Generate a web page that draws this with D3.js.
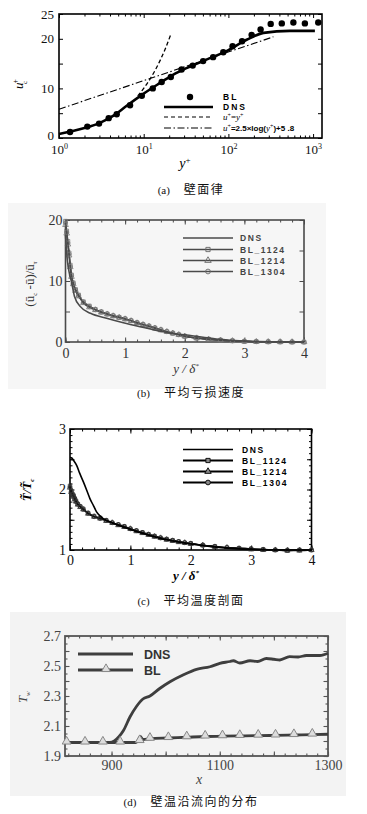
<!DOCTYPE html>
<html lang="zh">
<head>
  <meta charset="UTF-8">
  <script src="https://cdn.jsdelivr.net/npm/d3@7"></script>
  <title>壁面律 / 亏损速度 / 温度剖面 / 壁温</title>
  <style>
    body { margin: 0; background: #fff; }
  </style>
</head>
<body>
  <svg width="367" height="814"></svg>
<script>
  /* ---------- (a) 壁面律 ---------- */
  const aBLy = [1.35, 2.16, 2.97, 3.86, 4.8, 6.9, 9.5, 12.8, 16.3, 20.9, 28, 37.9, 50.3, 66, 87, 112, 145, 188, 240, 316, 427, 585, 800, 1150];
  const aBLu = [1.2, 2.3, 2.9, 4.0, 4.8, 6.6, 8.5, 10, 11.3, 12.3, 13.8, 14.6, 15.5, 16.3, 17.3, 18.5, 19.5, 20.8, 21.9, 23, 23.1, 23.3, 23.1, 23.3];
  const aDNSy = [1, 2, 3, 4.5, 6.3, 9.9, 15.6, 22.4, 32, 55, 95, 164, 260, 530, 1050];
  const aDNSu = [0.8, 2.0, 3.0, 4.6, 6.5, 8.9, 11.1, 12.8, 14.1, 15.8, 17.5, 19.8, 21.2, 21.6, 21.6];
  const aLinY = [8.5, 10, 12, 14, 16, 18, 20.8];
  const aLinU = [8.5, 10, 12, 14, 16, 18, 20.8];
  const aLogY = [1, 340];
  const aLogU = [5.8, 20.4];
  const aYLabels = [0, 10, 20, 25];
  const aXLabels = [1, 10, 100, 1000];

  /* ---------- (b) 平均亏损速度 ---------- */
  const bDNSx = [0, 0.01, 0.03, 0.06, 0.1, 0.15, 0.25, 0.42, 0.69, 0.97, 1.25, 1.53, 1.8, 2.03, 2.53, 3.08, 3.6, 4.0];
  const bDNSy = [17.5, 16, 13.5, 11.5, 9.9, 7.5, 5.8, 4.7, 3.9, 3.15, 2.5, 1.9, 1.4, 1.15, 0.5, 0.15, 0.03, 0];
  const bBLx = [0, 0.02, 0.04, 0.06, 0.08, 0.1, 0.13, 0.17, 0.22, 0.3, 0.4, 0.5, 0.6, 0.7, 0.8, 0.9, 1.0, 1.1, 1.2, 1.3, 1.4, 1.5, 1.6, 1.7, 1.8, 1.9, 2.0, 2.2, 2.4, 2.6, 2.8, 3.0, 3.2, 3.4, 3.6, 3.8, 4.0];
  const b1124y = [19.8, 18.2, 16.5, 14.6, 12.6, 11.0, 9.7, 8.6, 7.7, 6.6, 5.9, 5.35, 4.95, 4.6, 4.3, 4.05, 3.8, 3.5, 3.15, 2.85, 2.6, 2.3, 2.0, 1.7, 1.45, 1.2, 0.95, 0.65, 0.45, 0.3, 0.2, 0.1, 0.06, 0.03, 0.02, 0, 0];
  const b1214y = [19.2, 17.8, 16.0, 14.2, 12.3, 10.7, 9.5, 8.4, 7.5, 6.4, 5.7, 5.25, 4.85, 4.55, 4.25, 4.0, 3.75, 3.45, 3.1, 2.8, 2.55, 2.25, 1.95, 1.68, 1.42, 1.18, 0.93, 0.63, 0.43, 0.28, 0.18, 0.1, 0.05, 0.03, 0.01, 0, 0];
  const b1304y = [19.5, 18.0, 16.2, 14.4, 12.4, 10.9, 9.6, 8.5, 7.6, 6.5, 5.8, 5.3, 4.9, 4.6, 4.3, 4.05, 3.8, 3.5, 3.2, 2.9, 2.6, 2.3, 2.0, 1.7, 1.45, 1.2, 0.95, 0.65, 0.45, 0.3, 0.2, 0.1, 0.06, 0.03, 0.02, 0, 0];
  const bXLabels = [0, 1, 2, 3, 4];
  const bYLabels = [0, 10, 20];

  /* ---------- (c) 平均温度剖面 ---------- */
  const cDNSx = [0, 0.03, 0.06, 0.11, 0.16, 0.22, 0.28, 0.33, 0.39, 0.44, 0.5, 0.55, 0.65, 0.8, 1.0, 1.25, 1.5, 1.75, 2.0, 2.5, 3.0, 3.5, 4.0];
  const cDNSy = [2.53, 2.52, 2.48, 2.4, 2.27, 2.13, 1.98, 1.85, 1.73, 1.63, 1.56, 1.52, 1.47, 1.41, 1.34, 1.26, 1.19, 1.14, 1.1, 1.04, 1.01, 1.0, 1.0];
  const cBLx = [0, 0.02, 0.04, 0.06, 0.08, 0.1, 0.13, 0.17, 0.22, 0.3, 0.4, 0.5, 0.6, 0.7, 0.8, 0.9, 1.0, 1.1, 1.2, 1.3, 1.4, 1.5, 1.6, 1.7, 1.8, 1.9, 2.0, 2.2, 2.4, 2.6, 2.8, 3.0, 3.2, 3.4, 3.6, 3.8, 4.0];
  const c1124y = [2.06, 1.98, 1.93, 1.9, 1.85, 1.81, 1.76, 1.72, 1.68, 1.61, 1.56, 1.53, 1.49, 1.45, 1.42, 1.39, 1.35, 1.32, 1.29, 1.26, 1.23, 1.2, 1.18, 1.16, 1.14, 1.12, 1.11, 1.08, 1.06, 1.04, 1.03, 1.02, 1.01, 1.0, 0.99, 1.0, 1.0];
  const c1214y = [2.03, 1.96, 1.91, 1.88, 1.84, 1.8, 1.75, 1.71, 1.67, 1.6, 1.55, 1.52, 1.48, 1.45, 1.41, 1.38, 1.35, 1.31, 1.28, 1.25, 1.22, 1.2, 1.17, 1.15, 1.13, 1.12, 1.1, 1.08, 1.05, 1.04, 1.02, 1.01, 1.0, 1.0, 0.99, 0.99, 1.0];
  const c1304y = [2.04, 1.97, 1.92, 1.89, 1.85, 1.8, 1.76, 1.72, 1.67, 1.61, 1.55, 1.52, 1.49, 1.45, 1.42, 1.39, 1.35, 1.32, 1.29, 1.26, 1.23, 1.2, 1.18, 1.16, 1.14, 1.12, 1.11, 1.08, 1.06, 1.04, 1.03, 1.02, 1.01, 1.0, 1.0, 1.0, 1.0];
  const cXLabels = [0, 1, 2, 3, 4];
  const cYLabels = [1, 2, 3];

  /* ---------- (d) 壁温沿流向的分布 ---------- */
  const dDNSx = [814, 840, 870, 897, 905, 914, 922, 934, 946, 958, 971, 989, 1008, 1032, 1057, 1082, 1100, 1119, 1125, 1137, 1156, 1170, 1186, 1200, 1211, 1229, 1245, 1260, 1285, 1300];
  const dDNSy = [1.99, 1.99, 1.99, 1.99, 2.0, 2.03, 2.07, 2.16, 2.23, 2.28, 2.3, 2.35, 2.395, 2.44, 2.478, 2.495, 2.518, 2.53, 2.535, 2.52, 2.535, 2.53, 2.55, 2.545, 2.54, 2.562, 2.56, 2.57, 2.57, 2.585];
  const dBLx = [814, 851, 884, 916, 945, 950, 953, 958, 971, 1005, 1039, 1073, 1105, 1137, 1171, 1203, 1237, 1271, 1300];
  const dBLy = [1.99, 1.99, 1.99, 1.99, 1.99, 2.01, 2.03, 2.01, 2.015, 2.02, 2.025, 2.03, 2.032, 2.034, 2.036, 2.037, 2.04, 2.043, 2.045];
  const dTriX = [817, 851, 884, 916, 952, 971, 1005, 1039, 1073, 1105, 1137, 1171, 1203, 1237, 1271];
  const dTriY = [1.99, 1.99, 1.99, 1.99, 2.0, 2.015, 2.02, 2.025, 2.03, 2.032, 2.034, 2.036, 2.037, 2.04, 2.043];
  const dXLabels = [900, 1100, 1300];
  const dYLabels = [1.9, 2.1, 2.3, 2.5, 2.7];

  const svg = d3.select("svg");
  const serif = '"Liberation Serif", "DejaVu Serif", serif';
  const sans = '"Liberation Sans", Arial, sans-serif';
  const cjk = '"Noto Sans CJK SC", sans-serif';

  svg.append("rect").attr("width", 367).attr("height", 814).attr("fill", "#fff");
  // 扫描图的浅灰底色
  svg.append("rect").attr("x", 8).attr("y", 203).attr("width", 318).attr("height", 186).attr("fill", "#f6f6f6");
  svg.append("rect").attr("x", 10).attr("y", 612).attr("width", 336).attr("height", 184).attr("fill", "#f3f3f3");

  const zip = (xs, ys) => xs.map((x, i) => [x, ys[i]]);

  // 边框 + 四边向内刻度
  function frame(x, y, o) {
    const g = svg.append("g");
    const [l, r] = x.range();
    const [b, t] = y.range();
    const sides = [
      [d3.axisBottom, x, o.xMajor, o.xMinor, [0, b]],
      [d3.axisTop, x, o.xMajor, o.xMinor, [0, t]],
      [d3.axisLeft, y, o.yMajor, o.yMinor, [l, 0]],
      [d3.axisRight, y, o.yMajor, o.yMinor, [r, 0]]
    ];
    sides.forEach(([mk, sc, major, minor, p]) => {
      [[minor, o.minorLen], [major, o.majorLen]].forEach(([vals, len]) => {
        const ax = g.append("g")
          .attr("transform", "translate(" + p[0] + "," + p[1] + ")")
          .call(mk(sc).tickValues(vals).tickSize(-len).tickFormat(""));
        ax.select(".domain").remove();
        ax.selectAll("line").attr("stroke", o.color).attr("stroke-width", o.tickWidth);
      });
    });
    g.append("rect")
      .attr("x", l).attr("y", t)
      .attr("width", r - l).attr("height", b - t)
      .attr("fill", "none")
      .attr("stroke", o.color)
      .attr("stroke-width", o.frameWidth);

    // 刻度标签
    const xl = g.append("g")
      .attr("transform", "translate(0," + b + ")")
      .call(d3.axisBottom(x).tickValues(o.xLabels).tickSize(0).tickPadding(o.xPad).tickFormat(o.xFmt || (d => d)));
    const yl = g.append("g")
      .attr("transform", "translate(" + l + ",0)")
      .call(d3.axisLeft(y).tickValues(o.yLabels).tickSize(0).tickPadding(o.yPad).tickFormat(o.yFmt || (d => d)));
    [xl, yl].forEach(a => {
      a.select(".domain").remove();
      a.attr("font-family", serif).attr("font-size", o.fontSize);
      a.selectAll("text").attr("fill", o.labelColor || "#111");
    });
    return { g, xl, yl };
  }

  function caption(y, tag, txt) {
    const t = svg.append("text")
      .attr("x", 191).attr("y", y)
      .attr("text-anchor", "middle")
      .attr("fill", "#111");
    t.append("tspan").attr("font-family", serif).attr("font-size", 11).text("(" + tag + ")");
    t.append("tspan").attr("dx", 14).attr("font-family", cjk).attr("font-size", 12)
      .attr("letter-spacing", 1.5).text(txt);
  }

  /**
   * (a) 壁面律
   */
  const xA = d3.scaleLog().domain([1, 1274]).range([59, 322]);
  const yA = d3.scaleLinear().domain([0, 25]).range([138, 14]);

  const minorLog = [];
  [1, 10, 100, 1000].forEach(d => [2, 3, 4, 5, 6, 7, 8, 9].forEach(m => { if (d * m < 1274) minorLog.push(d * m); }));

  const fa = frame(xA, yA, {
    color: "#000", frameWidth: 1.6, tickWidth: 1,
    xMajor: aXLabels, xMinor: minorLog, yMajor: [0, 5, 10, 15, 20, 25], yMinor: [],
    majorLen: 4, minorLen: 2.5,
    xLabels: aXLabels, yLabels: aYLabels, xPad: 7, yPad: 5, fontSize: 13,
    xFmt: () => ""
  });
  fa.xl.selectAll(".tick text").each(function (d) {
    const t = d3.select(this);
    t.append("tspan").text("10");
    t.append("tspan").attr("dy", -5).attr("font-size", 8).text(Math.round(Math.log10(d)));
  });
  // "0" 稍上移，避免与 10^0 重叠
  fa.yl.selectAll(".tick text").filter(d => d === 0).attr("dy", "0.1em");

  const lineA = d3.line().x(d => xA(d[0])).y(d => yA(d[1]));

  svg.append("path")
    .attr("d", lineA(zip(aLogY, aLogU)))
    .attr("fill", "none").attr("stroke", "#000").attr("stroke-width", 1.1)
    .attr("stroke-dasharray", "7,2.5,1.5,2.5");
  svg.append("path")
    .attr("d", lineA.curve(d3.curveMonotoneX)(zip(aLinY, aLinU)))
    .attr("fill", "none").attr("stroke", "#000").attr("stroke-width", 1.3)
    .attr("stroke-dasharray", "4,2.5");
  svg.append("path")
    .attr("d", lineA.curve(d3.curveMonotoneX)(zip(aDNSy, aDNSu)))
    .attr("fill", "none").attr("stroke", "#000").attr("stroke-width", 2.6);
  svg.append("g").selectAll("circle")
    .data(zip(aBLy, aBLu))
    .join("circle")
    .attr("cx", d => xA(d[0])).attr("cy", d => yA(d[1]))
    .attr("r", 3.2).attr("fill", "#000");

  // 图例 (a)
  const legA = svg.append("g").attr("font-size", 8.5).attr("fill", "#000");
  legA.append("circle").attr("cx", 190).attr("cy", 97).attr("r", 3.2).attr("fill", "#000");
  legA.append("line").attr("x1", 164).attr("x2", 213).attr("y1", 107).attr("y2", 107)
    .attr("stroke", "#000").attr("stroke-width", 2.6);
  legA.append("line").attr("x1", 164).attr("x2", 213).attr("y1", 117).attr("y2", 117)
    .attr("stroke", "#000").attr("stroke-width", 1.2).attr("stroke-dasharray", "4,3");
  legA.append("line").attr("x1", 164).attr("x2", 213).attr("y1", 128).attr("y2", 128)
    .attr("stroke", "#000").attr("stroke-width", 1.1).attr("stroke-dasharray", "7,2.5,1.5,2.5");
  legA.append("text").attr("x", 223).attr("y", 100).attr("font-family", sans).attr("font-weight", "bold")
    .attr("letter-spacing", 2).text("BL");
  legA.append("text").attr("x", 223).attr("y", 110).attr("font-family", sans).attr("font-weight", "bold")
    .attr("letter-spacing", 2).text("DNS");
  const f1 = legA.append("text").attr("x", 223).attr("y", 120).attr("font-family", serif).attr("font-size", 9);
  f1.append("tspan").attr("font-style", "italic").text("u");
  f1.append("tspan").attr("dy", -3).attr("font-size", 6).text("+");
  f1.append("tspan").attr("dy", 3).text("=");
  f1.append("tspan").attr("font-style", "italic").text("y");
  f1.append("tspan").attr("dy", -3).attr("font-size", 6).text("+");
  const f2 = legA.append("text").attr("x", 223).attr("y", 131).attr("font-family", serif).attr("font-size", 9);
  f2.append("tspan").attr("font-style", "italic").text("u");
  f2.append("tspan").attr("dy", -3).attr("font-size", 6).text("+");
  f2.append("tspan").attr("dy", 3).attr("font-family", sans).attr("font-weight", "bold").attr("font-size", 8).text("=2.5×log(");
  f2.append("tspan").attr("font-style", "italic").text("y");
  f2.append("tspan").attr("dy", -3).attr("font-size", 6).text("+");
  f2.append("tspan").attr("dy", 3).attr("font-family", sans).attr("font-weight", "bold").attr("font-size", 8).text(")+5 .8");

  // 坐标轴标题 (a)
  const ya = svg.append("text").attr("transform", "translate(23,84) rotate(-90)")
    .attr("text-anchor", "middle").attr("font-family", serif).attr("font-size", 13);
  ya.append("tspan").attr("font-style", "italic").text("u");
  ya.append("tspan").attr("dy", -5).attr("dx", -1).attr("font-size", 8).text("+");
  ya.append("tspan").attr("dy", 9).attr("dx", -5).attr("font-size", 7).text("c");
  const xa = svg.append("text").attr("x", 185).attr("y", 168)
    .attr("text-anchor", "middle").attr("font-family", serif).attr("font-size", 14);
  xa.append("tspan").attr("font-style", "italic").text("y");
  xa.append("tspan").attr("dy", -5).attr("font-size", 9).text("+");

  caption(194, "a", "壁面律");

  /**
   * (b) 平均亏损速度
   */
  const grayB = "#4a4a4a";
  const xB = d3.scaleLinear().domain([0, 4]).range([65.5, 304]);
  const yB = d3.scaleLinear().domain([0, 20]).range([342, 220]);
  frame(xB, yB, {
    color: grayB, frameWidth: 1.6, tickWidth: 1,
    xMajor: d3.range(0, 4.01, 1), xMinor: d3.range(0, 4.01, 0.2),
    yMajor: d3.range(0, 20.1, 5), yMinor: [],
    majorLen: 4.5, minorLen: 2.5,
    xLabels: bXLabels, yLabels: bYLabels, xPad: 6, yPad: 3, fontSize: 14, labelColor: "#333"
  });
  const lineB = d3.line().x(d => xB(d[0])).y(d => yB(d[1])).curve(d3.curveMonotoneX);
  const bSeries = [
    { y: b1124y, m: d3.symbolSquare },
    { y: b1214y, m: d3.symbolTriangle },
    { y: b1304y, m: d3.symbolCircle }
  ];
  bSeries.forEach(s => {
    svg.append("path").attr("d", lineB(zip(bBLx, s.y)))
      .attr("fill", "none").attr("stroke", grayB).attr("stroke-width", 1.4);
    svg.append("g").selectAll("path")
      .data(zip(bBLx, s.y))
      .join("path")
      .attr("transform", d => "translate(" + xB(d[0]) + "," + yB(d[1]) + ")")
      .attr("d", d3.symbol().type(s.m).size(14))
      .attr("fill", "none").attr("stroke", "#777").attr("stroke-width", 0.8);
  });
  svg.append("path").attr("d", lineB(zip(bDNSx, bDNSy)))
    .attr("fill", "none").attr("stroke", grayB).attr("stroke-width", 1.6);

  // 图例 (b)
  const legBNames = ["DNS", "BL_1124", "BL_1214", "BL_1304"];
  const legBMarks = [null, d3.symbolSquare, d3.symbolTriangle, d3.symbolCircle];
  const legBY = [238, 249.5, 260.5, 271.5];
  legBNames.forEach((n, i) => {
    svg.append("line").attr("x1", 183).attr("x2", 233).attr("y1", legBY[i]).attr("y2", legBY[i])
      .attr("stroke", grayB).attr("stroke-width", 1.5);
    if (legBMarks[i]) {
      svg.append("path").attr("transform", "translate(208," + legBY[i] + ")")
        .attr("d", d3.symbol().type(legBMarks[i]).size(18))
        .attr("fill", "none").attr("stroke", "#666").attr("stroke-width", 0.9);
    }
    svg.append("text").attr("x", 240).attr("y", legBY[i] + 3)
      .attr("font-family", sans).attr("font-weight", "bold").attr("font-size", 8.5)
      .attr("letter-spacing", 1.6).attr("fill", "#444").text(n);
  });

  const yb = svg.append("text").attr("transform", "translate(34,284) rotate(-90)")
    .attr("text-anchor", "middle").attr("font-family", serif).attr("font-size", 13).attr("fill", "#333");
  yb.append("tspan").text("(ū");
  yb.append("tspan").attr("dy", 3).attr("font-size", 7).text("c");
  yb.append("tspan").attr("dy", -3).text(" -ū)/ū");
  yb.append("tspan").attr("dy", 3).attr("font-size", 7).text("τ");
  const xb = svg.append("text").attr("x", 186).attr("y", 373)
    .attr("text-anchor", "middle").attr("font-family", serif).attr("font-size", 13)
    .attr("font-style", "italic").attr("fill", "#333");
  xb.append("tspan").text("y / δ");
  xb.append("tspan").attr("dy", -5).attr("font-size", 7).text("*");

  caption(397, "b", "平均亏损速度");

  /**
   * (c) 平均温度剖面
   */
  const xC = d3.scaleLinear().domain([0, 4]).range([70, 311.5]);
  const yC = d3.scaleLinear().domain([1, 3]).range([550, 429]);
  frame(xC, yC, {
    color: "#000", frameWidth: 1.6, tickWidth: 1,
    xMajor: d3.range(0, 4.01, 1), xMinor: d3.range(0, 4.01, 0.2),
    yMajor: d3.range(1, 3.01, 0.5), yMinor: d3.range(1, 3.01, 0.1),
    majorLen: 4.5, minorLen: 2.5,
    xLabels: cXLabels, yLabels: cYLabels, xPad: 5, yPad: 4, fontSize: 14
  });
  const lineC = d3.line().x(d => xC(d[0])).y(d => yC(d[1])).curve(d3.curveMonotoneX);
  [[c1124y, d3.symbolSquare], [c1214y, d3.symbolTriangle], [c1304y, d3.symbolCircle]].forEach(([ys, m]) => {
    svg.append("path").attr("d", lineC(zip(cBLx, ys)))
      .attr("fill", "none").attr("stroke", "#111").attr("stroke-width", 1.3);
    svg.append("g").selectAll("path")
      .data(zip(cBLx, ys))
      .join("path")
      .attr("transform", d => "translate(" + xC(d[0]) + "," + yC(d[1]) + ")")
      .attr("d", d3.symbol().type(m).size(12))
      .attr("fill", "none").attr("stroke", "#333").attr("stroke-width", 0.8);
  });
  svg.append("path").attr("d", lineC(zip(cDNSx, cDNSy)))
    .attr("fill", "none").attr("stroke", "#000").attr("stroke-width", 1.6);

  const legCY = [449.5, 460.5, 471.5, 482.5];
  legBNames.forEach((n, i) => {
    svg.append("line").attr("x1", 183).attr("x2", 233).attr("y1", legCY[i]).attr("y2", legCY[i])
      .attr("stroke", "#000").attr("stroke-width", i === 0 ? 1.4 : 2);
    if (legBMarks[i]) {
      svg.append("path").attr("transform", "translate(208," + legCY[i] + ")")
        .attr("d", d3.symbol().type(legBMarks[i]).size(18))
        .attr("fill", "#888").attr("stroke", "#000").attr("stroke-width", 0.9);
    }
    svg.append("text").attr("x", 242).attr("y", legCY[i] + 3)
      .attr("font-family", sans).attr("font-weight", "bold").attr("font-size", 8.5)
      .attr("letter-spacing", 1.6).attr("fill", "#000").text(n);
  });

  const yc = svg.append("text").attr("transform", "translate(31,490) rotate(-90)")
    .attr("text-anchor", "middle").attr("font-family", serif).attr("font-size", 13)
    .attr("font-style", "italic").attr("font-weight", "bold");
  yc.append("tspan").text("T\u0303/T\u0303");
  yc.append("tspan").attr("dy", 3).attr("font-size", 7).text("c");
  const xc = svg.append("text").attr("x", 186).attr("y", 580)
    .attr("text-anchor", "middle").attr("font-family", serif).attr("font-size", 13)
    .attr("font-style", "italic").attr("font-weight", "bold");
  xc.append("tspan").text("y / δ");
  xc.append("tspan").attr("dy", -5).attr("font-size", 7).text("*");

  caption(605, "c", "平均温度剖面");

  /**
   * (d) 壁温沿流向的分布
   */
  const grayD = "#3e3e3e";
  const xD = d3.scaleLinear().domain([814, 1300]).range([65, 328]);
  const yD = d3.scaleLinear().domain([1.9, 2.7]).range([756, 636]);
  frame(xD, yD, {
    color: "#555", frameWidth: 1.8, tickWidth: 1.1,
    xMajor: d3.range(900, 1301, 100), xMinor: d3.range(820, 1301, 20),
    yMajor: d3.range(1.9, 2.71, 0.1), yMinor: d3.range(1.9, 2.71, 0.05),
    majorLen: 4.5, minorLen: 2.5,
    xLabels: dXLabels, yLabels: dYLabels, xPad: 4, yPad: 4, fontSize: 14,
    yFmt: d3.format(".1f"), labelColor: "#444"
  });
  const lineD = d3.line().x(d => xD(d[0])).y(d => yD(d[1])).curve(d3.curveMonotoneX);
  svg.append("path").attr("d", lineD(zip(dBLx, dBLy)))
    .attr("fill", "none").attr("stroke", grayD).attr("stroke-width", 2.8);
  svg.append("path").attr("d", lineD(zip(dDNSx, dDNSy)))
    .attr("fill", "none").attr("stroke", grayD).attr("stroke-width", 2.8);
  svg.append("g").selectAll("path")
    .data(zip(dTriX, dTriY))
    .join("path")
    .attr("transform", d => "translate(" + xD(d[0]) + "," + (yD(d[1]) - 1) + ")")
    .attr("d", d3.symbol().type(d3.symbolTriangle).size(34))
    .attr("fill", "#ddd").attr("stroke", "#888").attr("stroke-width", 1);

  svg.append("line").attr("x1", 78).attr("x2", 133).attr("y1", 654).attr("y2", 654)
    .attr("stroke", grayD).attr("stroke-width", 2.8);
  svg.append("line").attr("x1", 78).attr("x2", 133).attr("y1", 670).attr("y2", 670)
    .attr("stroke", grayD).attr("stroke-width", 2.8);
  svg.append("path").attr("transform", "translate(106,669)")
    .attr("d", d3.symbol().type(d3.symbolTriangle).size(34))
    .attr("fill", "#ddd").attr("stroke", "#888").attr("stroke-width", 1);
  svg.append("text").attr("x", 144).attr("y", 658.5)
    .attr("font-family", sans).attr("font-weight", "bold").attr("font-size", 12.5).attr("fill", "#333").text("DNS");
  svg.append("text").attr("x", 144).attr("y", 674.5)
    .attr("font-family", sans).attr("font-weight", "bold").attr("font-size", 12.5).attr("fill", "#333").text("BL");

  const yd = svg.append("text").attr("transform", "translate(27,697) rotate(-90)")
    .attr("text-anchor", "middle").attr("font-family", serif).attr("font-size", 12)
    .attr("font-style", "italic").attr("fill", "#444");
  yd.append("tspan").text("T");
  yd.append("tspan").attr("dy", 3).attr("font-size", 7).text("w");
  svg.append("text").attr("x", 199).attr("y", 784)
    .attr("text-anchor", "middle").attr("font-family", serif).attr("font-size", 14)
    .attr("font-style", "italic").attr("fill", "#444").text("x");

  caption(806, "d", "壁温沿流向的分布");
</script>
</body>
</html>
